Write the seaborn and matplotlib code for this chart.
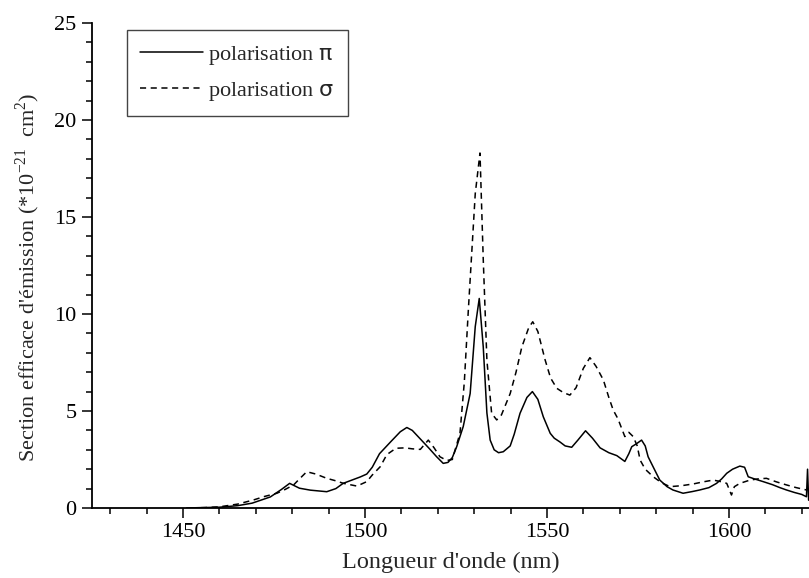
import numpy as np
import pandas as pd
import matplotlib
matplotlib.use("Agg")
import matplotlib.pyplot as plt
import seaborn as sns
from matplotlib.ticker import MultipleLocator

# ---- data ----
pi_nm = [1451, 1455, 1460, 1465, 1469, 1474, 1477, 1479.3, 1482, 1485, 1489.5, 1492, 1494,
         1498.7, 1500.5, 1502, 1504, 1507, 1509.7, 1511.5, 1513, 1515, 1517.5, 1519.7, 1521.5,
         1522.8, 1524, 1525.2, 1527, 1528.9, 1530.3, 1531.4, 1532.5, 1533.5, 1534.4, 1535.5,
         1536.7, 1538, 1539.9, 1541, 1542.6, 1544.5, 1546, 1547.5, 1549, 1550.9, 1552, 1553.6,
         1555, 1556.8, 1558.5, 1560.6, 1562.5, 1564.6, 1567, 1569.2, 1571.4, 1572.5, 1573.3,
         1574.5, 1576, 1577, 1577.8, 1579.5, 1581, 1583, 1584.6, 1587.4, 1590, 1592, 1594.5,
         1596.6, 1598, 1599.4, 1601, 1603, 1604.3, 1605.3, 1607, 1609.4, 1612, 1614, 1615.8,
         1618, 1620, 1621.3, 1621.6, 1621.9]
pi_val = [0.0, 0.02, 0.04, 0.12, 0.25, 0.57, 0.95, 1.27, 1.02, 0.92, 0.84, 1.0, 1.27,
          1.6, 1.75, 2.1, 2.8, 3.4, 3.93, 4.15, 4.0, 3.6, 3.1, 2.64, 2.3,
          2.35, 2.6, 3.16, 4.2, 5.9, 9.35, 10.8, 8.3, 4.9, 3.5, 3.0,
          2.85, 2.9, 3.2, 3.8, 4.88, 5.7, 6.0, 5.6, 4.7, 3.85, 3.6, 3.4,
          3.2, 3.13, 3.5, 3.98, 3.6, 3.1, 2.85, 2.7, 2.4, 2.8, 3.16,
          3.3, 3.5, 3.2, 2.64, 2.0, 1.44, 1.1, 0.93, 0.76, 0.85, 0.93, 1.05,
          1.27, 1.5, 1.79, 2.0, 2.16, 2.1, 1.61, 1.5, 1.36, 1.2, 1.05, 0.93,
          0.8, 0.7, 0.58, 2.0, 0.4]

sigma_nm = [1452, 1456, 1460, 1465, 1469.3, 1472.5, 1475.8, 1478, 1480.4, 1482, 1484, 1486.5,
            1489.5, 1492, 1494.1, 1497.8, 1500.5, 1502, 1504.2, 1506, 1508.5, 1511, 1513,
            1515.2, 1517.4, 1519, 1520.6, 1522.5, 1524, 1526.1, 1527.3, 1528.4, 1530.3, 1531.6,
            1532.5, 1533.5, 1534.8, 1536.2, 1537.5, 1539.9, 1541.5, 1543.1, 1545, 1546.1,
            1547.5, 1549.5, 1551, 1552.7, 1554.5, 1556.3, 1558, 1560, 1561.8, 1563.5, 1565.5,
            1567, 1568.2, 1569.5, 1571.4, 1572.5, 1573.7, 1574.8, 1575.6, 1577, 1579.2, 1581.5,
            1583.8, 1587, 1590.2, 1593, 1595.7, 1598, 1599.4, 1600.7, 1601.5, 1603, 1605.8,
            1608, 1610.3, 1613, 1615.8, 1618.5, 1621.3]
sigma_val = [0.0, 0.02, 0.06, 0.2, 0.41, 0.6, 0.76, 0.95, 1.19, 1.5, 1.87, 1.75,
             1.53, 1.4, 1.27, 1.13, 1.36, 1.7, 2.13, 2.75, 3.08, 3.1, 3.05,
             3.02, 3.5, 3.1, 2.64, 2.45, 2.5, 3.85, 6.5, 10.2, 16.2, 18.3,
             12.8, 7.63, 4.88, 4.54, 4.8, 5.9, 7.0, 8.3, 9.3, 9.6,
             9.1, 7.63, 6.7, 6.17, 5.95, 5.82, 6.2, 7.2, 7.75, 7.3, 6.6,
             5.7, 5.05, 4.6, 3.68, 3.9, 3.68, 3.2, 2.47, 2.0, 1.61, 1.3,
             1.1, 1.15, 1.24, 1.35, 1.44, 1.35, 1.27, 0.67, 1.1, 1.27, 1.44,
             1.5, 1.53, 1.35, 1.19, 1.05, 0.93]

labels = ["polarisation $\\mathsf{\\pi}$", "polarisation $\\mathsf{\\sigma}$"]
x_major_ticks = [1450, 1500, 1550, 1600]
y_major_ticks = [0, 5, 10, 15, 20, 25]

# ---- style ----
sns.set_theme(style="ticks")
plt.rcParams["font.family"] = ["Liberation Serif", "DejaVu Serif"]
plt.rcParams["mathtext.fontset"] = "dejavusans"
FS = 16

df_pi = pd.DataFrame({"nm": pi_nm, "val": pi_val})
df_sigma = pd.DataFrame({"nm": sigma_nm, "val": sigma_val})

fig = plt.figure(figsize=(8.09, 5.78), dpi=100)
ax = fig.add_axes([92 / 809, 70 / 578, (809 - 92) / 809, 485 / 578])

sns.lineplot(data=df_pi, x="nm", y="val", ax=ax, color="black", lw=1.1,
             sort=False, estimator=None, label=labels[0])
sns.lineplot(data=df_sigma, x="nm", y="val", ax=ax, color="black", lw=1.1,
             sort=False, estimator=None, label=labels[1], dashes=False)
ax.lines[1].set_dashes([4, 3])

ax.set_xlim(1425, 1622)
ax.set_ylim(0, 25)
ax.set_xticks(x_major_ticks)
ax.set_yticks(y_major_ticks)
ax.xaxis.set_minor_locator(MultipleLocator(10))
ax.yaxis.set_minor_locator(MultipleLocator(1))
ax.tick_params(axis="both", which="major", length=7, width=1.1, labelsize=FS,
               direction="out", colors="black", pad=4)
ax.tick_params(axis="both", which="minor", length=4, width=1.1, direction="out",
               colors="black")

for s in ["top", "right"]:
    ax.spines[s].set_visible(False)
for s in ["left", "bottom"]:
    ax.spines[s].set_linewidth(1.3)
    ax.spines[s].set_color("black")

ax.set_xlabel("Longueur d'onde (nm)", fontsize=17.5, labelpad=7)
ax.set_ylabel("Section efficace d'émission (*10$^{\\mathregular{-21}}$  cm$^{\\mathregular{2}}$)",
              fontsize=16)
ax.yaxis.set_label_coords(-0.07, 0.475)

leg = ax.legend(loc="upper left", bbox_to_anchor=(0.049, 0.985), fontsize=FS,
                frameon=True, fancybox=False, shadow=False, framealpha=1,
                handlelength=2.8, handletextpad=0.25, borderpad=0.6,
                labelspacing=0.6, borderaxespad=0)
leg.get_frame().set_edgecolor("#444444")
leg.get_frame().set_linewidth(1.0)

fig.savefig("out.png", dpi=100)
